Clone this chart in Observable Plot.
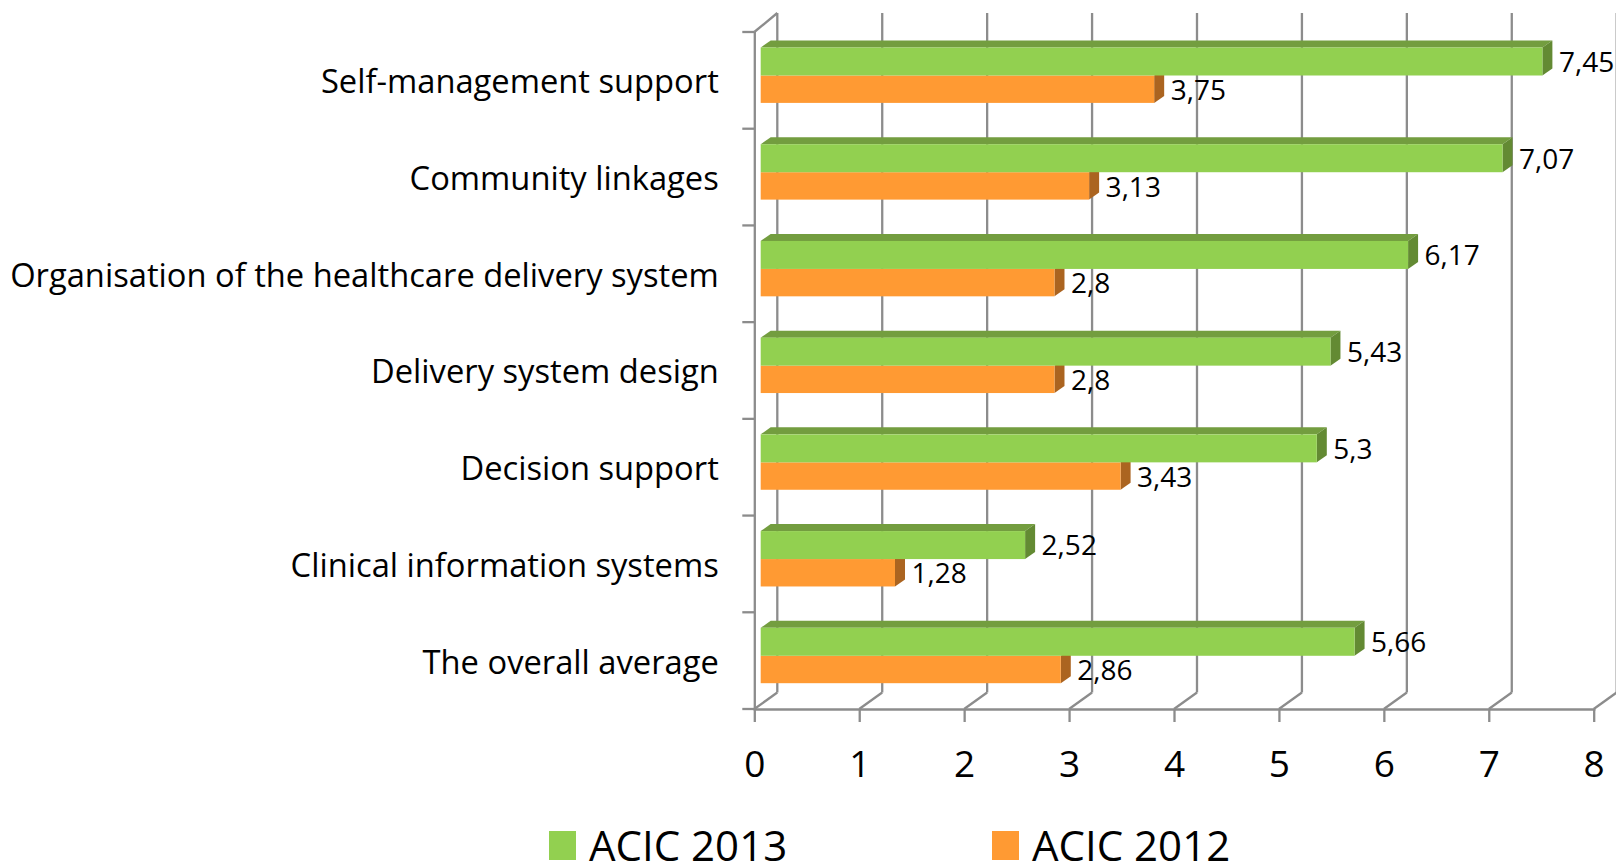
<!DOCTYPE html>
<html>
<head>
<meta charset="utf-8">
<script src="https://cdn.jsdelivr.net/npm/d3@7"></script>
<script src="https://cdn.jsdelivr.net/npm/@observablehq/plot@0.6"></script>
<style>
html,body{margin:0;padding:0;background:#fff;overflow:hidden}
#chart svg{display:block}
#legend{position:relative;width:1616px;height:43px;font-family:"Open Sans",sans-serif;font-size:42px;color:#000}
#legend span{position:absolute;white-space:nowrap}
</style>
</head>
<body>
<div id="chart"></div>
<div id="legend"></div>
<script>
const categories = ["Self-management support","Community linkages","Organisation of the healthcare delivery system","Delivery system design","Decision support","Clinical information systems","The overall average"];
const acic2013 = [7.45,7.07,6.17,5.43,5.3,2.52,5.66];
const acic2012 = [3.75,3.13,2.8,2.8,3.43,1.28,2.86];
const xTicks = [0,1,2,3,4,5,6,7,8];
const seriesNames = ["ACIC 2013","ACIC 2012"];

const rows2013 = categories.map((c,i)=>({c, v:acic2013[i]}));
const rows2012 = categories.map((c,i)=>({c, v:acic2012[i]}));
const comma = v => String(v).replace(".",",");

const FONT='"Open Sans",sans-serif';
const GRID="#8c8c8c", GW=2.3, BACK=[23,-16.5], BAR=[10,-7], START=6.4;
const NS="http://www.w3.org/2000/svg";
function el(parent,tag,attrs){const e=document.createElementNS(NS,tag);for(const k in attrs)e.setAttribute(k,attrs[k]);parent.appendChild(e);return e;}

function wall(index,scales,values,dim){
  const g=document.createElementNS(NS,"g");
  g.setAttribute("stroke",GRID);g.setAttribute("stroke-width",GW);g.setAttribute("fill","none");
  const yb=dim.height-dim.marginBottom, yt=dim.marginTop;
  for(const t of xTicks){
    const x=scales.x(t);
    el(g,"line",{x1:x+BACK[0],x2:x+BACK[0],y1:yt+BACK[1]-2.5,y2:yb+BACK[1]});
    el(g,"line",{x1:x,x2:x+BACK[0],y1:yb,y2:yb+BACK[1]});
  }
  const x0=scales.x(0);
  el(g,"line",{x1:x0,x2:x0+BACK[0],y1:yt,y2:yt+BACK[1]-2.5});
  const edges=categories.map(c=>scales.y(c)).concat(yb);
  for(const y of edges) el(g,"line",{x1:x0-12,x2:x0,y1:y,y2:y});
  return g;
}
function faces(rows,top,bottom,topFill,sideFill){
  return (index,scales)=>{
    const g=document.createElementNS(NS,"g");
    for(const r of rows){
      const x=scales.x(r.v)+START, xs=scales.x(0)+START, y=scales.y(r.c), y1=y+top, y2=y+bottom;
      if(topFill) el(g,"polygon",{fill:topFill,points:[[xs,y1],[x,y1],[x+BAR[0],y1+BAR[1]],[xs+BAR[0],y1+BAR[1]]].join(" ")});
      el(g,"polygon",{fill:sideFill,points:[[x,y1],[x+BAR[0],y1+BAR[1]],[x+BAR[0],y2+BAR[1]],[x,y2]].join(" ")});
    }
    return g;
  };
}

const W=1616,H=820,marginTop=32,marginBottom=H-709,marginLeft=754.3,marginRight=W-1593.7,band=(709-32)/7;
const chart=Plot.plot({
  width:W,height:H,marginTop,marginBottom,marginLeft,marginRight,
  style:{background:"transparent",overflow:"visible"},
  x:{domain:[0,8],label:null},
  y:{domain:categories,padding:0,round:false,label:null,type:"band"},
  marks:[
    wall,
    Plot.frame({anchor:"bottom",stroke:GRID,strokeWidth:GW}),
    Plot.ruleX([0],{stroke:GRID,strokeWidth:GW}),
    Plot.axisX({ticks:xTicks,anchor:"bottom",tickSize:13,tickPadding:28,stroke:GRID,strokeWidth:GW,fontSize:37,fontFamily:FONT,fill:"#000",label:null,tickFormat:d=>String(d)}),
    Plot.axisY({anchor:"left",tickSize:0,tickPadding:36,dy:2,fontSize:32.7,fontFamily:FONT,fill:"#000",label:null,lineWidth:Infinity}),
    faces(rows2012,43.5,70.9,null,"#ab6420"),
    Plot.barX(rows2012,{x:"v",y:"c",dx:START,fill:"#ff9a33",insetTop:43.5,insetBottom:band-70.9}),
    faces(rows2013,15.5,43.5,"#739d3f","#638a33"),
    Plot.barX(rows2013,{x:"v",y:"c",dx:START,fill:"#92d050",insetTop:15.5,insetBottom:band-43.5}),
    Plot.text(rows2013,{x:"v",y:"c",text:d=>comma(d.v),dx:START+16,dy:-18,textAnchor:"start",fontSize:28,fontFamily:FONT,fill:"#000"}),
    Plot.text(rows2012,{x:"v",y:"c",text:d=>comma(d.v),dx:START+16,dy:10,textAnchor:"start",fontSize:28,fontFamily:FONT,fill:"#000"})
  ]
});
document.getElementById("chart").appendChild(chart);

const legend=document.getElementById("legend");
const items=[[seriesNames[0],"#92d050",549,589],[seriesNames[1],"#ff9a33",992,1032]];
for(const [n,col,xs,xt] of items){
  const sq=document.createElement("span");
  sq.style.cssText=`left:${xs}px;top:11px;width:27px;height:29px;background:${col}`;
  legend.appendChild(sq);
  const t=document.createElement("span");
  t.textContent=n;
  t.style.cssText=`left:${xt}px;top:9px;line-height:32px`;
  legend.appendChild(t);
}
</script>
</body>
</html>
